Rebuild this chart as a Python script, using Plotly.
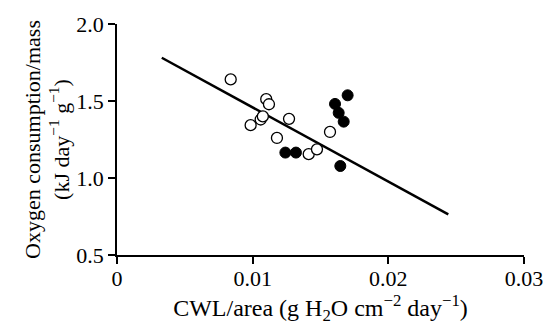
import plotly.graph_objects as go

# Open circles
open_x = [0.00838, 0.01100, 0.01120, 0.01059, 0.01075, 0.00985, 0.01268, 0.01179, 0.01413, 0.01474, 0.01570]
open_y = [1.640, 1.512, 1.479, 1.380, 1.400, 1.343, 1.384, 1.260, 1.155, 1.186, 1.299]

# Filled circles
filled_x = [0.01241, 0.01319, 0.01607, 0.01700, 0.01634, 0.01671, 0.01646]
filled_y = [1.165, 1.165, 1.481, 1.537, 1.423, 1.366, 1.078]

# Regression line endpoints
line_x = [0.0033, 0.02442]
line_y = [1.781, 0.764]

x_ticks = [0, 0.01, 0.02, 0.03]
x_ticklabels = ["0", "0.01", "0.02", "0.03"]
y_ticks = [0.5, 1.0, 1.5, 2.0]
y_ticklabels = ["0.5", "1.0", "1.5", "2.0"]

font = "Liberation Serif, Times New Roman, serif"

fig = go.Figure()
fig.add_trace(go.Scatter(x=line_x, y=line_y, mode="lines",
                         line=dict(color="black", width=2.5), showlegend=False))
fig.add_trace(go.Scatter(x=open_x, y=open_y, mode="markers",
                         marker=dict(symbol="circle", size=11, color="white",
                                     line=dict(color="black", width=1.3)),
                         showlegend=False))
fig.add_trace(go.Scatter(x=filled_x, y=filled_y, mode="markers",
                         marker=dict(symbol="circle", size=11, color="black",
                                     line=dict(color="black", width=1)),
                         showlegend=False))

axis_common = dict(showline=True, linecolor="black", linewidth=1.5,
                   ticks="outside", ticklen=7, tickwidth=1.5, tickcolor="black",
                   showgrid=False, zeroline=False,
                   tickfont=dict(family=font, size=22, color="black"))

fig.update_layout(
    width=555, height=327,
    margin=dict(l=117, r=31, t=13, b=72),
    paper_bgcolor="white", plot_bgcolor="white",
    xaxis=dict(range=[0, 0.03], tickvals=x_ticks, ticktext=x_ticklabels,
               ticklabelstandoff=-4,
               title=dict(text="CWL/area (g H<sub>2</sub>O cm<sup>−2</sup> day<sup>−1</sup>)",
                          font=dict(family=font, size=24, color="black"), standoff=0),
               **axis_common),
    yaxis=dict(range=[0.5, 2.0], tickvals=y_ticks, ticktext=y_ticklabels,
               title=dict(text="Oxygen consumption/mass<br>(kJ day<sup>−1</sup> g<sup>−1</sup>)",
                          font=dict(family=font, size=22, color="black"), standoff=1),
               **axis_common),
)

fig.write_html("out.html")
